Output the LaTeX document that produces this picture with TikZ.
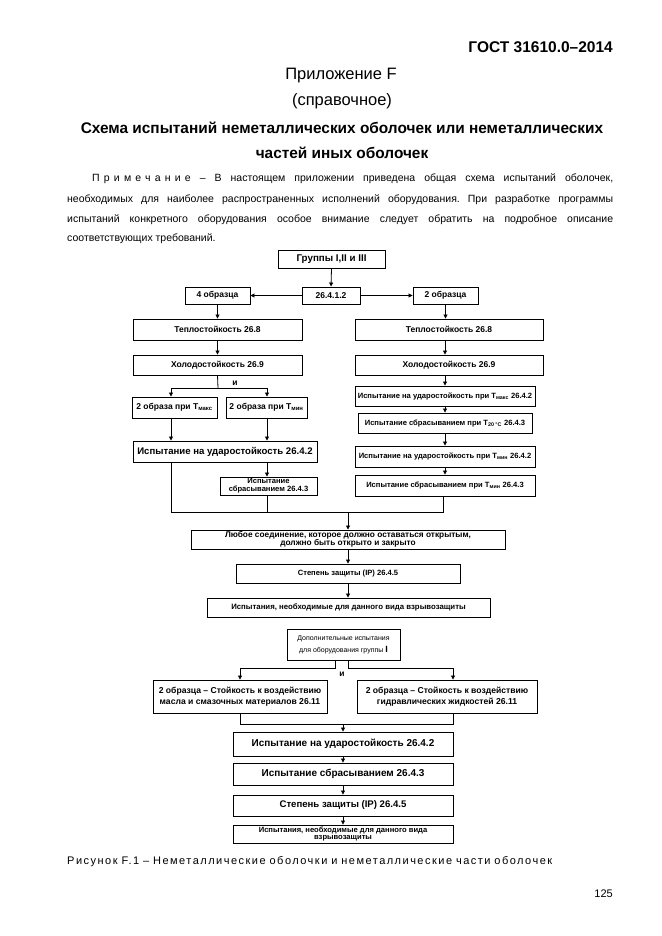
\documentclass[tikz,border=0pt]{standalone}
\usepackage{fontspec}
\setmainfont{Liberation Sans}
\usetikzlibrary{arrows.meta}
\frenchspacing
\begin{document}
\begin{tikzpicture}[x=1pt,y=-1pt,
  box/.style={draw, line width=0.9pt, inner sep=1pt, align=center, font=\bfseries\fontsize{8.5}{10}\selectfont},
  sm/.style={font=\bfseries\fontsize{7.6}{8.6}\selectfont},
  md/.style={font=\bfseries\fontsize{7.8}{9}\selectfont},
  big/.style={font=\bfseries\fontsize{9.6}{12}\selectfont},
  txt/.style={inner sep=0pt},
  arr/.style={line width=0.8pt, -{Triangle[length=4pt,width=4pt]}},
  ln/.style={line width=0.8pt},
  lbl/.style={inner sep=0pt, font=\bfseries\fontsize{8.5}{10}\selectfont}]
\useasboundingbox (0,0) rectangle (661,936);
\fill[white] (0,0) rectangle (661,936);

% header texts
\node[txt, anchor=base east, font=\bfseries\fontsize{15.5}{18}\selectfont] (gost) at (613,53) {ГОСТ 31610.0–2014};
\node[txt, anchor=base, font=\fontsize{16.5}{19}\selectfont] (app) at (341,80) {Приложение F};
\node[txt, anchor=base, font=\fontsize{16.5}{19}\selectfont] (ref) at (342,106) {(справочное)};
\node[txt, anchor=base, font=\bfseries\fontsize{15.4}{18}\selectfont] (t1) at (342,134) {Схема испытаний неметаллических оболочек или неметаллических};
\node[txt, anchor=base, font=\bfseries\fontsize{15.4}{18}\selectfont] (t2) at (342,159) {частей иных оболочек};

\node[txt, anchor=base west, font=\fontsize{10.5}{12}\selectfont] (n1) at (92,182) {\makebox[521pt][s]{{\addfontfeature{LetterSpace=40}Примечание} – В настоящем приложении приведена общая схема испытаний оболочек,}};
\node[txt, anchor=base west, font=\fontsize{10.5}{12}\selectfont] (n2) at (67,202) {\makebox[546pt][s]{необходимых для наиболее распространенных исполнений оборудования. При разработке программы}};
\node[txt, anchor=base west, font=\fontsize{10.5}{12}\selectfont] (n3) at (67,222) {\makebox[546pt][s]{испытаний конкретного оборудования особое внимание следует обратить на подробное описание}};
\node[txt, anchor=base west, font=\fontsize{10.5}{12}\selectfont] (n4) at (67,241) {соответствующих требований.};

% diagram boxes
\node[box, font=\bfseries\fontsize{9.8}{11}\selectfont, minimum width=107pt, minimum height=18pt] (grp) at (331.5,259) {Группы I,II и III};
\node[box, minimum width=58pt, minimum height=17pt] (n2641) at (331,295.5) {26.4.1.2};
\node[box, minimum width=65pt, minimum height=17pt] (four) at (217.5,295.5) {4 образца};
\node[box, minimum width=65pt, minimum height=17pt] (two) at (445.5,295.5) {2 образца};
\node[box, minimum width=169pt, minimum height=21pt] (tl) at (217.5,329.5) {Теплостойкость 26.8};
\node[box, minimum width=188pt, minimum height=21pt] (tr) at (449,329.5) {Теплостойкость 26.8};
\node[box, minimum width=169pt, minimum height=20pt] (hl) at (217.5,365) {Холодостойкость 26.9};
\node[box, minimum width=188pt, minimum height=20pt] (hr) at (449,365) {Холодостойкость 26.9};
\node[box, minimum width=85pt, minimum height=21pt] (mx) at (174.5,407.5) {2 образа при T\textsubscript{макс}};
\node[box, minimum width=81pt, minimum height=21pt] (mn) at (266.5,407.5) {2 образа при T\textsubscript{мин}};
\node[box, big, minimum width=184pt, minimum height=21pt] (ud) at (225,451.5) {Испытание на ударостойкость 26.4.2};
\node[box, sm, font=\bfseries\fontsize{7.6}{8}\selectfont, minimum width=97pt, minimum height=18pt, inner sep=0.5pt] (sb) at (268.5,486) {Испытание\\сбрасыванием 26.4.3};
\node[box, sm, minimum width=180pt, minimum height=20pt, inner sep=0.5pt] (r1) at (445,396) {Испытание на ударостойкость при T\textsubscript{макс} 26.4.2};
\node[box, sm, minimum width=174pt, minimum height=20pt] (r2) at (445,423) {Испытание сбрасыванием при T\textsubscript{20 °C} 26.4.3};
\node[box, sm, minimum width=180pt, minimum height=21pt, inner sep=0.5pt] (r3) at (445,456.5) {Испытание на ударостойкость при T\textsubscript{мин} 26.4.2};
\node[box, sm, minimum width=180pt, minimum height=21pt] (r4) at (445,485.5) {Испытание сбрасыванием при T\textsubscript{мин} 26.4.3};
\node[box, font=\bfseries\fontsize{8.3}{8.6}\selectfont, minimum width=314pt, minimum height=19pt, inner sep=0.3pt] (any) at (348,539.5) {Любое соединение, которое должно оставаться открытым,\\должно быть открыто и закрыто};
\node[box, sm, minimum width=224pt, minimum height=19pt] (ip1) at (348,573.5) {Степень защиты (IP) 26.4.5};
\node[box, md, minimum width=283pt, minimum height=19pt] (ex1) at (348.5,607.5) {Испытания, необходимые для данного вида взрывозащиты};
\node[box, font=\fontsize{7}{12}\selectfont, minimum width=113pt, minimum height=31pt] (add) at (343.5,644.5) {Дополнительные испытания\\для оборудования группы {\bfseries\fontsize{9}{12}\selectfont I}};
\node[box, font=\bfseries\fontsize{8.6}{10.5}\selectfont, minimum width=174pt, minimum height=33pt, inner sep=0.5pt] (oil) at (240,696.5) {2 образца – Стойкость к воздействию\\масла и смазочных материалов 26.11};
\node[box, font=\bfseries\fontsize{8.6}{10.5}\selectfont, minimum width=180pt, minimum height=33pt, inner sep=0.5pt] (hyd) at (447,696.5) {2 образца – Стойкость к воздействию\\гидравлических жидкостей 26.11};
\node[box, font=\bfseries\fontsize{10}{12}\selectfont, minimum width=220pt, minimum height=24pt] (ud2) at (343,744) {Испытание на ударостойкость 26.4.2};
\node[box, font=\bfseries\fontsize{10}{12}\selectfont, minimum width=220pt, minimum height=22pt] (sb2) at (343,774) {Испытание сбрасыванием 26.4.3};
\node[box, font=\bfseries\fontsize{9.6}{12}\selectfont, minimum width=220pt, minimum height=21pt] (ip2) at (343,805.5) {Степень защиты (IP) 26.4.5};
\node[box, font=\bfseries\fontsize{7.6}{7.8}\selectfont, minimum width=220pt, minimum height=18pt, inner sep=0.2pt] (ex2) at (343,834) {Испытания, необходимые для данного вида\\взрывозащиты};

% connectors top
\draw[arr] (grp.south) -- (n2641.north);
\draw[arr] (n2641.west) -- (four.east);
\draw[arr] (n2641.east) -- (two.west);
\draw[arr] (four.south) -- (four.south |- tl.north);
\draw[arr] (two.south) -- (two.south |- tr.north);
\draw[arr] (tl.south) -- (hl.north);
\draw[arr] (r1.north |- tr.south) -- (r1.north |- hr.north);
% split left
\coordinate (s1) at (218,388);
\coordinate (xl) at (171,0);
\coordinate (xm) at (267,0);
\draw[ln] (hl.south) -- (s1);
\draw[arr] (s1) -| (xl |- mx.north);
\draw[arr] (s1) -| (xm |- mn.north);
\node[lbl, anchor=base] (and1) at (235,385) {и};
\draw[arr] (xl |- mx.south) -- (xl |- ud.north);
\draw[arr] (xm |- mn.south) -- (xm |- ud.north);
\draw[arr] (xm |- ud.south) -- (xm |- sb.north);
% right column
\draw[arr] (r1.north |- hr.south) -- (r1.north);
\draw[arr] (r1.south) -- (r2.north -| r1.south);
\draw[arr] (r2.south -| r1.south) -- (r3.north);
\draw[arr] (r3.south) -- (r4.north);
% join
\coordinate (jl) at (171,512);
\coordinate (jm) at (267,512);
\coordinate (jr) at (443,512);
\coordinate (jc) at (348,512);
\draw[ln] (xl |- ud.south) -- (jl) -- (jr) -- (jr |- r4.south);
\draw[ln] (xm |- sb.south) -- (jm);
\draw[arr] (jc) -- (any.north);
\draw[arr] (any.south) -- (ip1.north);
\draw[arr] (ip1.south) -- (ip1.south |- ex1.north);
% additional
\coordinate (al) at (335,668);
\coordinate (ar) at (348,668);
\coordinate (xh) at (453,0);
\draw[arr] (al |- add.south) -- (al) -| (oil.north);
\draw[arr] (ar |- add.south) -- (ar) -| (xh |- hyd.north);
\node[lbl, anchor=base] (and2) at (342,676) {и};
\coordinate (bl) at (240,724);
\coordinate (br) at (453,724);
\draw[ln] (oil.south) -- (bl) -- (br) -- (br |- hyd.south);
\draw[arr] (ud2.north |- bl) -- (ud2.north);
\draw[arr] (ud2.south) -- (sb2.north);
\draw[arr] (sb2.south) -- (ip2.north);
\draw[arr] (ip2.south) -- (ex2.north);

% caption and page number
\node[txt, anchor=base west, font=\fontsize{11}{13}\selectfont] (cap) at (67,864) {\makebox[485pt][s]{\addfontfeature{LetterSpace=13.5}Рисунок F.1 – Неметаллические оболочки и неметаллические части оболочек}};
\node[txt, anchor=base east, font=\fontsize{11}{13}\selectfont] (pg) at (613,897) {125};
\end{tikzpicture}
\end{document}
